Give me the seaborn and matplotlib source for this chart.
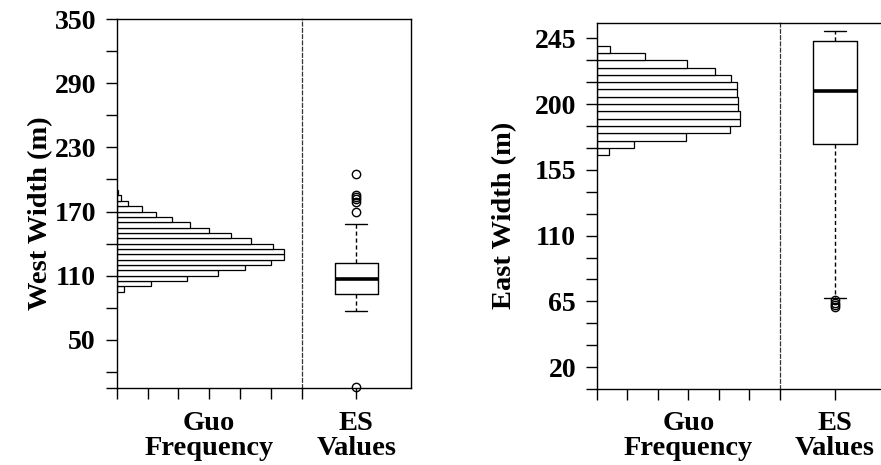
import numpy as np
import seaborn as sns
import matplotlib.pyplot as plt

# west side: Guo histogram (bin edges, frequency per bin bottom -> top) + ES box stats
west_edges = [95, 100, 105, 110, 115, 120, 125, 130, 135, 140, 145,
              150, 155, 160, 165, 170, 175, 180, 185, 190]
west_freq = [2.5, 11.1, 22.9, 33.0, 41.6, 49.9, 54.2, 54.2, 50.6, 43.7,
             37.0, 29.9, 23.6, 17.8, 12.7, 8.1, 3.8, 1.5, 0.3]
west_box = dict(whislo=77, q1=92.7, med=106.7, q3=122, whishi=158,
                fliers=[205, 185.5, 183.4, 181.5, 179.3, 169.3, 5.5])
west_ticks = [5, 20, 50, 80, 110, 140, 170, 200, 230, 260, 290, 320, 350]
west_labels = [50, 110, 170, 230, 290, 350]

# east side
east_edges = [165, 170, 175, 180, 185, 190, 195, 200, 205, 210, 215,
              220, 225, 230, 235, 240]
east_freq = [3.8, 12.2, 29.3, 43.5, 46.8, 46.8, 46.2, 46.2, 45.9, 45.9,
             43.9, 38.6, 29.5, 15.8, 4.2]
east_box = dict(whislo=67, q1=172.7, med=209, q3=243.4, whishi=250,
                fliers=[66, 64, 62.5, 61])
east_ticks = [5, 20, 35, 50, 65, 80, 95, 110, 125, 140, 155, 170, 185,
              200, 215, 230, 245]
east_labels = [20, 65, 110, 155, 200, 245]

freq_ticks = [0, 10, 20, 30, 40, 50, 60]

sns.set_style("ticks")
plt.rcParams['font.family'] = ['Liberation Serif', 'DejaVu Serif']
plt.rcParams['font.weight'] = 'bold'
plt.rcParams['axes.linewidth'] = 1.0
for k in ['text.color', 'axes.labelcolor', 'xtick.color', 'ytick.color', 'axes.edgecolor']:
    plt.rcParams[k] = 'black'

fig = plt.figure(figsize=(8.81, 4.65), dpi=100)


def panel(rect_h, rect_b, edges, freq, box, ylim, ticks, labels, ylabel, ylab_x, xlab_y):
    ax_h = fig.add_axes(rect_h)
    ax_b = fig.add_axes(rect_b, sharey=ax_h)

    mids = [(a + b) / 2 for a, b in zip(edges[:-1], edges[1:])]
    sns.histplot(y=mids, weights=freq, bins=edges, ax=ax_h, color="white",
                 edgecolor="black", linewidth=0.9, alpha=1)
    ax_h.set_xlim(0, 60)
    ax_h.set_ylim(*ylim)
    ax_h.set_xticks(freq_ticks)
    ax_h.set_xticklabels([])
    ax_h.set_yticks(ticks)
    ax_h.set_yticklabels([str(t) if t in labels else "" for t in ticks])
    ax_h.tick_params(axis="both", direction="out", length=8, width=1,
                     labelsize=20, pad=7, color="black")
    ax_h.spines["right"].set_visible(False)
    for s in ["left", "top", "bottom"]:
        ax_h.spines[s].set_visible(True)

    ax_h.set_xlabel("Guo\nFrequency", fontsize=20.5, fontweight="bold",
                    va="top", linespacing=1.0)
    ax_h.xaxis.set_label_coords(0.5, xlab_y)
    ax_h.set_ylabel(ylabel, fontsize=20.5, fontweight="bold")
    ax_h.yaxis.set_label_coords(ylab_x, 0.475)

    stats = dict(box)
    parts = ax_b.bxp([stats], positions=[0], widths=0.8, showfliers=True,
                     boxprops=dict(color="black", linewidth=1),
                     medianprops=dict(color="black", linewidth=2.6),
                     whiskerprops=dict(color="black", linewidth=1, linestyle=(0, (3, 2))),
                     capprops=dict(color="black", linewidth=1),
                     flierprops=dict(marker="o", markerfacecolor="none",
                                     markeredgecolor="black", markersize=6,
                                     markeredgewidth=1))
    for f in parts["fliers"]:
        f.set_clip_on(False)
    ax_b.set_xlim(-1, 1)
    ax_b.set_xticks([0])
    ax_b.set_xticklabels([])
    ax_b.tick_params(axis="x", direction="out", length=8, width=1)
    ax_b.tick_params(axis="y", left=False, labelleft=False)
    for s in ["right", "top", "bottom"]:
        ax_b.spines[s].set_visible(True)
    ax_b.spines["left"].set_linestyle((0, (3, 2)))
    ax_b.spines["left"].set_linewidth(0.9)
    ax_b.spines["left"].set_color("#333333")
    ax_b.set_xlabel("ES\nValues", fontsize=20.5, fontweight="bold",
                    va="top", linespacing=1.0)
    ax_b.xaxis.set_label_coords(0.5, xlab_y)
    ax_b.set_ylabel("")


panel([0.1325, 0.1656, 0.2100, 0.7935], [0.3425, 0.1656, 0.1241, 0.7935],
      west_edges, west_freq, west_box, (5, 350), west_ticks, west_labels,
      "West Width (m)", -0.344, -0.062)
panel([0.6776, 0.1634, 0.2077, 0.7865], [0.8853, 0.1634, 0.1249, 0.7865],
      east_edges, east_freq, east_box, (5, 255.3), east_ticks, east_labels,
      "East Width (m)", -0.437, -0.060)

fig.savefig("out.png", dpi=100)
